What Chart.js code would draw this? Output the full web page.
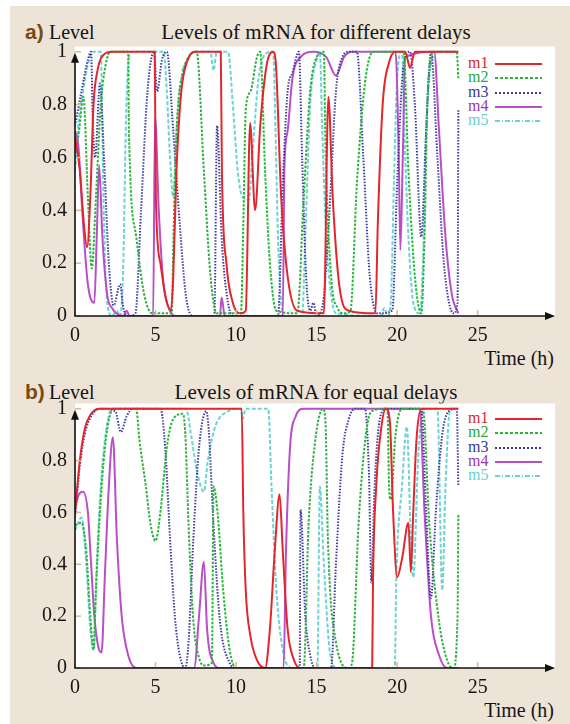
<!DOCTYPE html>
<html>
<head>
<meta charset="utf-8">
<script src="https://cdn.jsdelivr.net/npm/chart.js@4.4.1/dist/chart.umd.min.js"></script>
<style>
html, body { margin: 0; padding: 0; background: #fff; }
body { position: relative; width: 570px; height: 724px; overflow: hidden; }
#page { position: absolute; left: 10px; top: 6px; width: 560px; height: 718px; background: #ede4d7; }
canvas { position: absolute; left: 0; }
.txt { position: absolute; font-family: "Liberation Serif", "Times New Roman", serif; font-size: 20px; color: #151515; white-space: nowrap; line-height: 1; }
.ttl { font-size: 21px; }
.tag { position: absolute; font-family: "Liberation Sans", sans-serif; font-weight: bold; font-size: 21px; color: #7b4a12; line-height: 1; }
.legend { position: absolute; left: 462px; width: 92px; padding-top: 3px; padding-bottom: 4px; background: #fff; font-family: "Liberation Serif", serif; font-size: 16px; }
.row { position: relative; height: 14.3px; line-height: 14.3px; }
.row span.lab { position: absolute; left: 6px; top: 0; }
.row span.smp { position: absolute; left: 33px; top: 7px; width: 47px; height: 2px; }
</style>
</head>
<body>
<div id="page"></div>

<div class="tag" style="left:25px; top:21px;">a)</div>
<div class="txt" style="left:49px; top:22px;">Level</div>
<div class="txt ttl" style="left:316px; top:22px; transform:translateX(-50%);">Levels of mRNA for different delays</div>
<div class="txt" style="right:16px; top:348px;">Time (h)</div>

<div class="tag" style="left:25px; top:381px;">b)</div>
<div class="txt" style="left:49px; top:382px;">Level</div>
<div class="txt ttl" style="left:316px; top:382px; transform:translateX(-50%);">Levels of mRNA for equal delays</div>
<div class="txt" style="right:16px; top:700px;">Time (h)</div>

<canvas id="chartA" width="570" height="362" style="top:0px"></canvas>
<canvas id="chartB" width="570" height="362" style="top:362px"></canvas>

<div class="legend" id="legendA" style="top:53px"></div>
<div class="legend" id="legendB" style="top:408px"></div>

<script>
// Series names and colours
const names = ['m1', 'm2', 'm3', 'm4', 'm5']
const colors = ['#e3262b', '#2bb43c', '#3c3c9e', '#b94ec8', '#6cd3d3']
const textColors = ['#d42a2a', '#27a838', '#37379a', '#9b38b2', '#6ccfcf']
const dashes = [[], [2.5, 1.5], [1.5, 1.5], [], [4, 2]]

// Tick labels
const xTicks = [0, 5, 10, 15, 20, 25]
const xTickLabels = ['0', '5', '10', '15', '20', '25']
const yTicks = [0, 0.2, 0.4, 0.6, 0.8, 1]
const yTickLabels = ['0', '0.2', '0.4', '0.6', '0.8', '1']

// a) different delays - time (h) and level for each mRNA
const aM1T = [0, 0.3, 0.55, 0.75, 0.95, 1.15, 1.4, 1.8, 2.3, 4.95, 5.02, 5.3, 5.6, 5.95, 6.1, 6.3, 6.6, 7.0, 7.5, 9.05, 9.12, 9.4, 9.8, 10.3, 10.6, 10.87, 11.18, 11.5, 11.9, 12.3, 12.45, 12.8, 13.2, 13.8, 15.45, 15.73, 16.0, 16.4, 17.0, 18.65, 18.8, 19.1, 19.5, 19.9, 20.5, 20.8, 21.1, 23.8]
const aM1V = [0.68, 0.55, 0.35, 0.26, 0.45, 0.8, 0.93, 0.99, 1, 1, 0.45, 0.2, 0.08, 0.02, 0.15, 0.55, 0.85, 0.97, 1, 1, 0.55, 0.2, 0.05, 0.01, 0.02, 0.73, 0.4, 0.72, 0.95, 1, 0.97, 0.45, 0.15, 0.02, 0.01, 0.83, 0.45, 0.12, 0.02, 0.01, 0.35, 0.8, 0.96, 1, 1, 0.94, 1, 1]

const aM2T = [0, 0.25, 0.52, 0.8, 1.04, 1.3, 1.6, 1.9, 2.2, 3.3, 3.35, 3.8, 4.3, 4.8, 6.0, 6.15, 6.35, 6.7, 7.2, 7.55, 8.0, 8.4, 8.8, 10.3, 10.45, 10.6, 10.9, 11.3, 11.5, 11.8, 12.1, 12.5, 13.8, 14.2, 14.6, 15.0, 15.45, 15.55, 15.9, 16.3, 16.7, 17.1, 17.5, 18.0, 18.5, 20.4, 20.7, 21.1, 21.5, 21.7, 21.9, 22.3, 23.7, 23.8]
const aM2V = [0.6, 0.7, 0.83, 0.45, 0.18, 0.45, 0.8, 0.95, 1, 1, 0.7, 0.3, 0.08, 0.01, 0.01, 0.4, 0.75, 0.92, 0.99, 1, 0.55, 0.16, 0.01, 0.01, 0.35, 0.78, 0.85, 0.98, 1, 0.55, 0.2, 0.02, 0.01, 0.45, 0.85, 0.98, 1, 0.65, 0.15, 0.03, 0.01, 0.02, 0.5, 0.88, 1, 1, 0.55, 0.15, 0.01, 0.3, 0.85, 1, 1, 0.9]

const aM3T = [0, 0.4, 0.8, 1.0, 1.1, 1.25, 1.55, 1.8, 2.1, 2.4, 2.8, 3.0, 3.3, 3.75, 4.1, 4.5, 4.9, 5.1, 5.4, 5.7, 6.1, 6.5, 6.9, 7.35, 8.65, 8.82, 9.1, 9.5, 9.9, 12.6, 12.9, 13.2, 13.5, 13.9, 14.1, 14.35, 14.6, 14.8, 15.0, 15.4, 15.8, 16.2, 16.6, 17.0, 17.5, 17.9, 18.3, 18.8, 19.7, 20.0, 20.4, 20.8, 21.1, 21.5, 21.8, 22.1, 22.5, 22.9, 23.5, 23.75, 23.8]
const aM3V = [0.72, 0.85, 0.97, 1, 0.75, 0.6, 0.88, 0.6, 0.2, 0.04, 0.12, 0.03, 0, 0.01, 0.4, 0.85, 1, 0.85, 0.97, 1, 0.7, 0.35, 0.07, 0, 0, 0.72, 0.3, 0.05, 0, 0, 0.5, 0.85, 0.92, 1, 0.6, 0.15, 0.02, 0.05, 0, 0.05, 0.4, 0.85, 0.98, 1, 1, 0.6, 0.15, 0.01, 0.02, 0.5, 0.95, 1, 0.8, 0.3, 0.7, 1, 0.6, 0.2, 0.01, 0.05, 0.78]

const aM4T = [0, 0.2, 0.5, 0.8, 1.2, 1.35, 1.5, 1.7, 2.0, 2.3, 3.0, 3.2, 3.4, 4.85, 4.97, 5.2, 5.5, 5.9, 6.3, 9.0, 9.1, 9.3, 12.9, 13.0, 13.2, 13.5, 14.0, 14.8, 15.6, 16.2, 16.7, 17.2, 19.9, 20.1, 20.2, 20.35, 20.5, 22.3, 22.6, 23.0, 23.4, 23.8]
const aM4V = [0.7, 0.65, 0.35, 0.12, 0.05, 0.3, 0.57, 0.3, 0.08, 0.03, 0, 0.02, 0, 0, 0.75, 0.4, 0.12, 0.02, 0, 0, 0.07, 0, 0, 0.56, 0.7, 0.9, 0.98, 1, 0.98, 0.91, 0.98, 1, 1, 0.6, 0.25, 0.6, 0.98, 1, 0.7, 0.3, 0.08, 0.01]

const aM5T = [0, 0.25, 0.5, 0.8, 1.1, 1.6, 1.75, 1.9, 2.05, 2.3, 2.6, 2.8, 3.0, 3.15, 3.3, 3.5, 5.5, 5.7, 5.9, 6.1, 6.3, 6.6, 7.0, 7.4, 8.4, 8.6, 8.8, 9.5, 9.8, 10.1, 10.4, 10.8, 11.0, 11.4, 11.8, 12.3, 12.45, 12.6, 12.8, 13.0, 14.1, 14.3, 14.6, 15.0, 15.2, 15.35, 15.6, 15.9, 16.2, 19.0, 19.2, 19.4, 19.6, 19.8, 20.0, 20.3, 20.45, 20.7, 21.0, 21.4, 21.6, 21.8, 22.1, 22.5, 23.8]
const aM5V = [0.55, 0.75, 0.85, 0.95, 1, 1, 0.5, 0.15, 0.03, 0, 0.02, 0, 0.2, 0.7, 0.95, 1, 1, 0.85, 0.6, 0.45, 0.7, 0.9, 0.97, 1, 1, 0.93, 1, 1, 0.8, 0.55, 0.45, 0.44, 0.6, 0.9, 0.99, 1, 0.7, 0.3, 0.05, 0, 0, 0.3, 0.8, 0.97, 1, 0.7, 0.3, 0.08, 0.01, 0, 0.03, 0, 0.05, 0.5, 0.9, 1, 0.7, 0.3, 0.05, 0.01, 0.2, 0.7, 0.95, 1, 1]

// b) equal delays
const bM1T = [0, 0.3, 0.6, 1.0, 1.5, 10.35, 10.45, 10.6, 10.9, 11.3, 11.8, 12.1, 12.4, 12.7, 12.9, 13.2, 13.6, 14.0, 18.45, 18.5, 18.7, 19.0, 19.3, 19.55, 19.75, 20.0, 20.3, 20.7, 20.85, 21.0, 21.2, 21.5, 23.8]
const bM1V = [0.6, 0.8, 0.92, 0.98, 1, 1, 0.6, 0.3, 0.12, 0.03, 0, 0.15, 0.45, 0.67, 0.45, 0.15, 0.03, 0, 0, 0.33, 0.7, 0.92, 1, 0.95, 0.6, 0.35, 0.42, 0.56, 0.37, 0.6, 0.88, 1, 1]

const bM2T = [0, 0.4, 0.7, 0.95, 1.15, 1.3, 1.6, 1.95, 2.4, 3.8, 4.0, 4.4, 4.7, 5.0, 5.3, 5.7, 6.1, 6.7, 6.85, 7.05, 7.35, 7.7, 8.0, 8.5, 8.6, 8.85, 9.2, 9.6, 10.0, 14.2, 14.5, 14.9, 15.4, 15.55, 15.7, 16.2, 17.0, 17.2, 17.6, 18.0, 18.4, 19.4, 19.5, 19.6, 19.9, 20.3, 21.6, 22.0, 22.6, 23.1, 23.5, 23.75, 23.8]
const bM2V = [0.55, 0.56, 0.45, 0.2, 0.07, 0.3, 0.65, 0.9, 1, 1, 0.88, 0.7, 0.55, 0.49, 0.6, 0.85, 0.96, 0.98, 0.9, 0.55, 0.18, 0.04, 0.01, 0.02, 0.7, 0.6, 0.3, 0.07, 0, 0, 0.55, 0.87, 1, 0.95, 0.5, 0.1, 0, 0.02, 0.55, 0.87, 0.99, 1, 0.7, 0.65, 0.9, 1, 1, 0.55, 0.18, 0.03, 0, 0.2, 0.59]

const bM3T = [0, 0.3, 0.6, 1.0, 1.6, 2.5, 2.85, 3.2, 3.6, 5.3, 5.6, 5.9, 6.2, 6.5, 6.85, 7.05, 7.35, 7.7, 8.15, 8.3, 8.6, 9.0, 9.6, 10.0, 13.95, 14.0, 14.3, 14.6, 14.9, 15.9, 16.2, 16.6, 17.0, 17.4, 18.0, 18.25, 18.4, 18.6, 18.9, 19.3, 21.5, 21.8, 22.1, 22.4, 22.8, 23.2, 23.7, 23.8]
const bM3V = [0.58, 0.78, 0.9, 0.97, 1, 0.99, 0.91, 0.97, 1, 1, 0.85, 0.5, 0.2, 0.05, 0, 0.1, 0.5, 0.85, 0.99, 0.92, 0.55, 0.18, 0.02, 0, 0, 0.61, 0.2, 0.05, 0, 0, 0.4, 0.82, 0.96, 1, 1, 0.75, 0.33, 0.7, 0.95, 1, 1, 0.6, 0.27, 0.6, 0.9, 0.99, 1, 0.7]

const bM4T = [0, 0.25, 0.5, 0.8, 1.0, 1.2, 1.45, 1.65, 1.85, 2.1, 2.35, 2.6, 2.9, 3.3, 3.8, 7.4, 7.7, 8.0, 8.2, 8.6, 9.0, 12.95, 13.1, 13.35, 13.7, 14.2, 21.4, 21.7, 22.1, 22.6, 23.1, 23.8]
const bM4V = [0.62, 0.67, 0.68, 0.6, 0.4, 0.2, 0.08, 0.06, 0.35, 0.7, 0.89, 0.5, 0.2, 0.05, 0, 0, 0.2, 0.41, 0.15, 0.02, 0, 0, 0.45, 0.85, 0.97, 1, 1, 0.6, 0.2, 0.05, 0, 0]

const bM5T = [0, 0.4, 0.7, 0.95, 1.15, 1.35, 1.6, 1.9, 2.3, 6.9, 7.2, 7.6, 8.0, 8.25, 8.7, 9.5, 10.3, 10.4, 10.6, 12.0, 12.2, 12.5, 12.9, 13.5, 15.05, 15.2, 15.45, 15.85, 16.3, 19.85, 19.95, 20.3, 20.6, 20.85, 21.0, 21.3, 21.6, 22.5, 22.8, 23.0, 23.3, 23.8]
const bM5V = [0.53, 0.58, 0.4, 0.15, 0.07, 0.4, 0.7, 0.9, 1, 1, 0.9, 0.75, 0.68, 0.8, 0.93, 0.99, 1, 0.96, 1, 1, 0.7, 0.3, 0.07, 0, 0, 0.7, 0.4, 0.05, 0, 0, 0.35, 0.7, 0.93, 0.5, 0.35, 0.8, 1, 1, 0.3, 0.7, 1, 1]

const seriesA = [[aM1T, aM1V], [aM2T, aM2V], [aM3T, aM3V], [aM4T, aM4V], [aM5T, aM5V]]
const seriesB = [[bM1T, bM1V], [bM2T, bM2V], [bM3T, bM3V], [bM4T, bM4V], [bM5T, bM5V]]

// white plot area, inner tick marks and arrowed axes
const framePlugin = {
  id: 'frame',
  beforeDatasetsDraw (chart) {
    const { ctx, chartArea: a } = chart
    ctx.save()
    ctx.fillStyle = '#fff'
    ctx.fillRect(a.left, a.top, a.right - a.left, a.bottom - a.top)
    ctx.restore()
  },
  afterDatasetsDraw (chart) {
    const { ctx, chartArea: a, scales } = chart
    ctx.save()
    ctx.strokeStyle = '#d9b993'
    ctx.lineWidth = 1.5
    yTicks.forEach(v => {
      const y = scales.y.getPixelForValue(v)
      ctx.beginPath(); ctx.moveTo(a.left, y); ctx.lineTo(a.left + 6, y); ctx.stroke()
    })
    xTicks.forEach(v => {
      const x = scales.x.getPixelForValue(v)
      ctx.beginPath(); ctx.moveTo(x, a.bottom); ctx.lineTo(x, a.bottom - 6); ctx.stroke()
    })
    const tip = scales.y.getPixelForValue(1) + 1
    ctx.strokeStyle = '#111'
    ctx.fillStyle = '#111'
    ctx.lineWidth = 1.6
    ctx.beginPath()
    ctx.moveTo(a.left, tip + 6); ctx.lineTo(a.left, a.bottom); ctx.lineTo(a.right - 6, a.bottom)
    ctx.stroke()
    ctx.beginPath()
    ctx.moveTo(a.left, tip); ctx.lineTo(a.left - 4, tip + 10); ctx.lineTo(a.left + 4, tip + 10); ctx.closePath(); ctx.fill()
    ctx.beginPath()
    ctx.moveTo(a.right, a.bottom); ctx.lineTo(a.right - 10, a.bottom - 4); ctx.lineTo(a.right - 10, a.bottom + 4); ctx.closePath(); ctx.fill()
    ctx.restore()
  }
}

function makeChart (id, series, padTop, padBottom) {
  const datasets = series.map((s, i) => ({
    label: names[i],
    data: s[0].map((t, j) => ({ x: t, y: s[1][j] })),
    borderColor: colors[i],
    borderWidth: 2,
    borderDash: dashes[i],
    pointRadius: 0,
    cubicInterpolationMode: 'monotone',
    fill: false
  }))
  const tickFont = { family: 'Liberation Serif', size: 20 }
  new Chart(document.getElementById(id), {
    type: 'line',
    data: { datasets },
    options: {
      responsive: false,
      animation: false,
      devicePixelRatio: 1,
      layout: { padding: { left: 35, right: 15, top: padTop, bottom: padBottom } },
      plugins: { legend: { display: false }, tooltip: { enabled: false } },
      scales: {
        x: {
          type: 'linear',
          min: 0,
          max: 29.8,
          afterBuildTicks: scale => { scale.ticks = xTicks.map(v => ({ value: v })) },
          afterFit: scale => { scale.height = 30 },
          ticks: { callback: (v, i) => xTickLabels[i], font: tickFont, color: '#151515', padding: 0, maxRotation: 0, autoSkip: false },
          grid: { display: false },
          border: { display: false }
        },
        y: {
          min: 0,
          max: 1.02,
          afterBuildTicks: scale => { scale.ticks = yTicks.map(v => ({ value: v })) },
          afterFit: scale => { scale.width = 40 },
          ticks: { callback: (v, i) => yTickLabels[i], font: tickFont, color: '#151515', padding: 8, autoSkip: false },
          grid: { display: false, drawTicks: false },
          border: { display: false }
        }
      }
    },
    plugins: [framePlugin]
  })
}

makeChart('chartA', seriesA, 46.5, 16)
makeChart('chartB', seriesB, 41.5, 26)

// legends
const samples = [
  c => c,
  c => `repeating-linear-gradient(90deg, ${c} 0 3px, transparent 3px 5px)`,
  c => `repeating-linear-gradient(90deg, ${c} 0 2px, transparent 2px 4px)`,
  c => c,
  c => `repeating-linear-gradient(90deg, ${c} 0 5px, transparent 5px 7px, ${c} 7px 8px, transparent 8px 10px)`
]
function buildLegend (id) {
  const box = document.getElementById(id)
  names.forEach((n, i) => {
    const row = document.createElement('div')
    row.className = 'row'
    const lab = document.createElement('span')
    lab.className = 'lab'
    lab.style.color = textColors[i]
    lab.textContent = n
    const smp = document.createElement('span')
    smp.className = 'smp'
    smp.style.background = samples[i](colors[i])
    row.appendChild(lab)
    row.appendChild(smp)
    box.appendChild(row)
  })
}
buildLegend('legendA')
buildLegend('legendB')
</script>
</body>
</html>
